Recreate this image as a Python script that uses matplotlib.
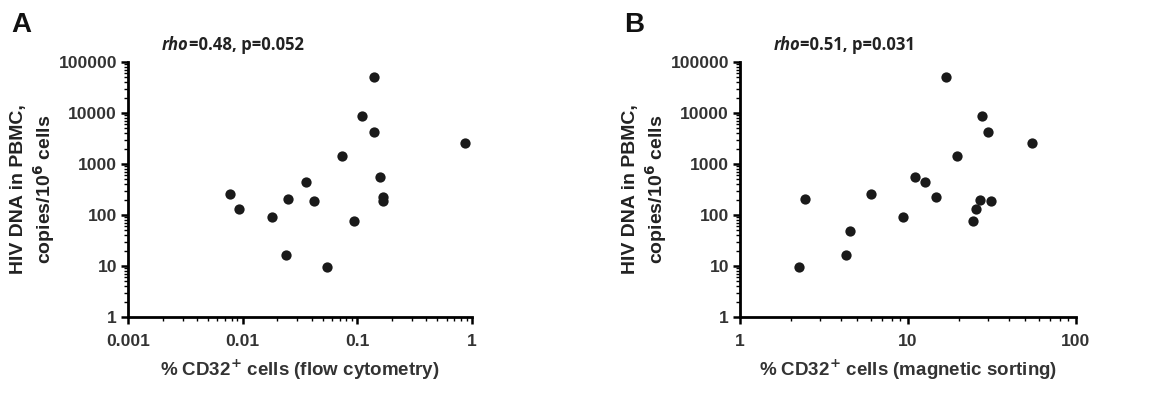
import numpy as np
import matplotlib
matplotlib.use('Agg')
import matplotlib.pyplot as plt
from matplotlib.ticker import LogLocator, FuncFormatter, NullFormatter

# panel A: flow cytometry
flow_pct = [0.140, 0.109, 0.140, 0.863, 0.0736, 0.158, 0.0357, 0.00773, 0.0250,
            0.0417, 0.169, 0.169, 0.00927, 0.0179, 0.0931, 0.0237, 0.0548]
flow_dna = [51500, 8810, 4207, 2557, 1419, 549, 444, 258, 206,
            185, 222, 185, 129, 89.7, 74.8, 16.3, 9.47]

# panel B: magnetic sorting
mag_pct = [16.9, 27.5, 29.8, 54.7, 19.6, 11.0, 12.7, 6.06, 14.6,
           2.43, 26.9, 31.2, 25.4, 9.31, 24.3, 4.52, 4.26, 2.25]
mag_dna = [51500, 8810, 4207, 2557, 1419, 549, 444, 258, 225,
           206, 194, 185, 129, 89.7, 74.8, 49.1, 16.3, 9.47]

stats_a = ('0.48', '0.052')
stats_b = ('0.51', '0.031')

W, H = 1173, 393
fig = plt.figure(figsize=(W / 100, H / 100), dpi=100)

txt_col = '#222222'
lab_font = 'Liberation Sans'


def fmt(v, pos):
    return '%g' % v


def setup(ax, x, y, xlim, xlabel, stats, letter, letter_x):
    ax.plot(x, y, 'o', color='#1a1a1a', markersize=7.4, markeredgewidth=0)
    ax.set_xscale('log')
    ax.set_yscale('log')
    ax.set_xlim(*xlim)
    ax.set_ylim(1, 100000)
    for s in ['top', 'right']:
        ax.spines[s].set_visible(False)
    for s in ['left', 'bottom']:
        ax.spines[s].set_linewidth(2.0)
    ax.xaxis.set_major_locator(LogLocator(base=10, numticks=10))
    ax.yaxis.set_major_locator(LogLocator(base=10, numticks=10))
    ax.xaxis.set_minor_locator(LogLocator(base=10, subs=np.arange(2, 10), numticks=20))
    ax.yaxis.set_minor_locator(LogLocator(base=10, subs=np.arange(2, 10), numticks=20))
    ax.xaxis.set_major_formatter(FuncFormatter(fmt))
    ax.yaxis.set_major_formatter(FuncFormatter(fmt))
    ax.xaxis.set_minor_formatter(NullFormatter())
    ax.yaxis.set_minor_formatter(NullFormatter())
    ax.tick_params(which='major', length=5, width=1.8, direction='out', pad=3)
    ax.tick_params(axis='x', which='major', pad=7)
    ax.tick_params(which='minor', length=3, width=1.0, direction='out')
    for t in ax.get_xticklabels() + ax.get_yticklabels():
        t.set_fontname(lab_font)
        t.set_fontsize(12.6)
        t.set_fontweight('bold')
        t.set_color('#333333')
    ax.set_xlabel(xlabel, fontname=lab_font, fontweight='bold', fontsize=13.5,
                  color='#333333', labelpad=7)
    ax.set_ylabel('HIV DNA in PBMC,\ncopies/10$^{\\mathbf{6}}$ cells', fontname=lab_font,
                  fontweight='bold', fontsize=14, color=txt_col, labelpad=1,
                  linespacing=1.2)
    rho = ax.text(0.099, 1.03, 'rho', transform=ax.transAxes, fontsize=12,
                  fontweight='bold', fontstyle='italic', fontname='Open Sans',
                  color=txt_col, va='bottom', ha='left')
    ax.annotate('=%s, p=%s' % stats, xy=(1, 0), xycoords=rho,
                fontsize=12, fontweight='bold', fontname='Open Sans', color=txt_col,
                va='bottom', ha='left')
    fig.text(letter_x / W, 1 - 25 / H, letter, fontname=lab_font, fontweight='bold',
             fontsize=20, color='#111111', va='center', ha='left')


ax1 = fig.add_axes([128 / W, (H - 317) / H, 344 / W, 255 / H])
setup(ax1, flow_pct, flow_dna, (0.001, 1),
      '% CD32$^{\\mathbf{+}}$ cells (flow cytometry)', stats_a, 'A', 11)

ax2 = fig.add_axes([740 / W, (H - 317) / H, 336 / W, 255 / H])
setup(ax2, mag_pct, mag_dna, (1, 100),
      '% CD32$^{\\mathbf{+}}$ cells (magnetic sorting)', stats_b, 'B', 624)

fig.savefig('out.png', dpi=100)
